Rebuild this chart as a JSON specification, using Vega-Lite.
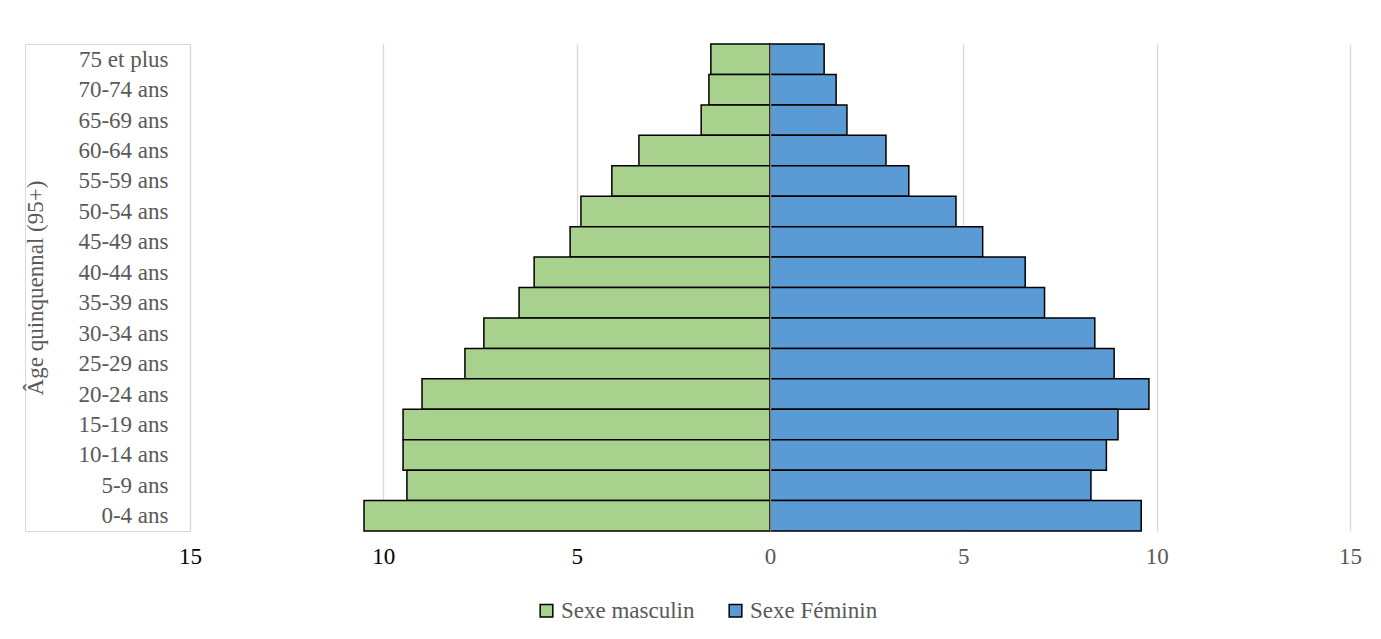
{
  "$schema": "https://vega.github.io/schema/vega-lite/v6.json",
  "padding": {"left": 24, "top": 43, "right": 0, "bottom": 0},
  "background": "#ffffff",
  "config": {
    "view": {"stroke": null},
    "font": "Liberation Serif",
    "axis": {"labelFont": "Liberation Serif", "titleFont": "Liberation Serif"},
    "legend": {"labelFont": "Liberation Serif"}
  },
  "data": {
    "values": [
      {"age": "75 et plus", "sexe": "Sexe masculin", "valeur": 1.53},
      {"age": "70-74 ans", "sexe": "Sexe masculin", "valeur": 1.58},
      {"age": "65-69 ans", "sexe": "Sexe masculin", "valeur": 1.78},
      {"age": "60-64 ans", "sexe": "Sexe masculin", "valeur": 3.39},
      {"age": "55-59 ans", "sexe": "Sexe masculin", "valeur": 4.09},
      {"age": "50-54 ans", "sexe": "Sexe masculin", "valeur": 4.89},
      {"age": "45-49 ans", "sexe": "Sexe masculin", "valeur": 5.17},
      {"age": "40-44 ans", "sexe": "Sexe masculin", "valeur": 6.1},
      {"age": "35-39 ans", "sexe": "Sexe masculin", "valeur": 6.49},
      {"age": "30-34 ans", "sexe": "Sexe masculin", "valeur": 7.4},
      {"age": "25-29 ans", "sexe": "Sexe masculin", "valeur": 7.89},
      {"age": "20-24 ans", "sexe": "Sexe masculin", "valeur": 9.0},
      {"age": "15-19 ans", "sexe": "Sexe masculin", "valeur": 9.49},
      {"age": "10-14 ans", "sexe": "Sexe masculin", "valeur": 9.49},
      {"age": "5-9 ans", "sexe": "Sexe masculin", "valeur": 9.39},
      {"age": "0-4 ans", "sexe": "Sexe masculin", "valeur": 10.5},
      {"age": "75 et plus", "sexe": "Sexe Féminin", "valeur": 1.4},
      {"age": "70-74 ans", "sexe": "Sexe Féminin", "valeur": 1.71},
      {"age": "65-69 ans", "sexe": "Sexe Féminin", "valeur": 1.99},
      {"age": "60-64 ans", "sexe": "Sexe Féminin", "valeur": 3.0},
      {"age": "55-59 ans", "sexe": "Sexe Féminin", "valeur": 3.59},
      {"age": "50-54 ans", "sexe": "Sexe Féminin", "valeur": 4.81},
      {"age": "45-49 ans", "sexe": "Sexe Féminin", "valeur": 5.5},
      {"age": "40-44 ans", "sexe": "Sexe Féminin", "valeur": 6.6},
      {"age": "35-39 ans", "sexe": "Sexe Féminin", "valeur": 7.1},
      {"age": "30-34 ans", "sexe": "Sexe Féminin", "valeur": 8.4},
      {"age": "25-29 ans", "sexe": "Sexe Féminin", "valeur": 8.9},
      {"age": "20-24 ans", "sexe": "Sexe Féminin", "valeur": 9.8},
      {"age": "15-19 ans", "sexe": "Sexe Féminin", "valeur": 9.0},
      {"age": "10-14 ans", "sexe": "Sexe Féminin", "valeur": 8.7},
      {"age": "5-9 ans", "sexe": "Sexe Féminin", "valeur": 8.3},
      {"age": "0-4 ans", "sexe": "Sexe Féminin", "valeur": 9.6}
    ]
  },
  "hconcat": [
    {
      "width": 165,
      "height": 487,
      "view": {"stroke": "#d9d9d9", "strokeWidth": 1},
      "mark": {"type": "point", "opacity": 0},
      "encoding": {
        "y": {
          "field": "age",
          "type": "nominal",
          "sort": ["75 et plus", "70-74 ans", "65-69 ans", "60-64 ans", "55-59 ans", "50-54 ans", "45-49 ans", "40-44 ans", "35-39 ans", "30-34 ans", "25-29 ans", "20-24 ans", "15-19 ans", "10-14 ans", "5-9 ans", "0-4 ans"],
          "scale": {"paddingInner": 0, "paddingOuter": 0},
          "axis": {
            "orient": "left",
            "offset": -143,
            "domain": false,
            "ticks": false,
            "grid": false,
            "labelPadding": 0,
            "labelFontSize": 23,
            "labelColor": "#595959",
            "title": "Âge quinquennal (95+)",
            "titleFontSize": 23,
            "titleFontWeight": "normal",
            "titleColor": "#595959",
            "titlePadding": 30
          }
        }
      }
    },
    {
      "width": 580,
      "height": 487,
      "transform": [{"filter": "datum.sexe == 'Sexe masculin'"}],
      "mark": {"type": "bar", "stroke": "#000000", "strokeWidth": 1.5},
      "encoding": {
        "y": {
          "field": "age",
          "type": "nominal",
          "sort": ["75 et plus", "70-74 ans", "65-69 ans", "60-64 ans", "55-59 ans", "50-54 ans", "45-49 ans", "40-44 ans", "35-39 ans", "30-34 ans", "25-29 ans", "20-24 ans", "15-19 ans", "10-14 ans", "5-9 ans", "0-4 ans"],
          "scale": {"paddingInner": 0, "paddingOuter": 0},
          "axis": null
        },
        "x": {
          "field": "valeur",
          "type": "quantitative",
          "scale": {"domain": [0, 15], "reverse": true, "nice": false},
          "axis": {
            "values": [5, 10, 15],
            "grid": true,
            "gridColor": "#d9d9d9",
            "gridWidth": 1.3,
            "domain": false,
            "ticks": false,
            "labelFlush": false,
            "labelFontSize": 23,
            "labelColor": "#000000",
            "labelPadding": 14,
            "title": null
          }
        },
        "color": {
          "field": "sexe",
          "type": "nominal",
          "scale": {"domain": ["Sexe masculin", "Sexe Féminin"], "range": ["#A9D18E", "#5B9BD5"]},
          "legend": {
            "title": null,
            "orient": "none",
            "legendX": 510,
            "legendY": 555,
            "direction": "horizontal",
            "symbolType": "square",
            "symbolSize": 160,
            "symbolStrokeColor": "#000000",
            "symbolStrokeWidth": 1.5,
            "labelFontSize": 23,
            "labelColor": "#595959",
            "labelOffset": 3,
            "columnPadding": 29,
            "padding": 0
          }
        }
      }
    },
    {
      "width": 580,
      "height": 487,
      "transform": [{"filter": "datum.sexe == 'Sexe Féminin'"}],
      "mark": {"type": "bar", "stroke": "#000000", "strokeWidth": 1.5},
      "encoding": {
        "y": {
          "field": "age",
          "type": "nominal",
          "sort": ["75 et plus", "70-74 ans", "65-69 ans", "60-64 ans", "55-59 ans", "50-54 ans", "45-49 ans", "40-44 ans", "35-39 ans", "30-34 ans", "25-29 ans", "20-24 ans", "15-19 ans", "10-14 ans", "5-9 ans", "0-4 ans"],
          "scale": {"paddingInner": 0, "paddingOuter": 0},
          "axis": {
            "orient": "left",
            "labels": false,
            "ticks": false,
            "grid": false,
            "domain": true,
            "domainColor": "#7f7f7f",
            "domainWidth": 1.5,
            "title": null,
            "zindex": 1
          }
        },
        "x": {
          "field": "valeur",
          "type": "quantitative",
          "scale": {"domain": [0, 15], "nice": false},
          "axis": {
            "values": [0, 5, 10, 15],
            "grid": true,
            "gridColor": "#d9d9d9",
            "gridWidth": 1.3,
            "domain": false,
            "ticks": false,
            "labelFlush": false,
            "labelFontSize": 23,
            "labelColor": "#595959",
            "labelPadding": 14,
            "title": null
          }
        },
        "color": {
          "field": "sexe",
          "type": "nominal",
          "scale": {"domain": ["Sexe masculin", "Sexe Féminin"], "range": ["#A9D18E", "#5B9BD5"]}
        }
      }
    }
  ],
  "spacing": 0,
  "bounds": "flush"
}
